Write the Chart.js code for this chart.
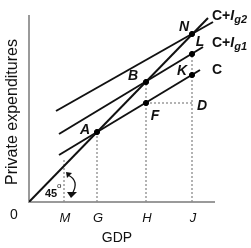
<!DOCTYPE html>
<html>
<head>
<meta charset="utf-8">
<script src="https://cdn.jsdelivr.net/npm/chart.js@4.4.1/dist/chart.umd.min.js"></script>
<style>
    html, body { margin: 0; padding: 0; background: #fff; }
    canvas { display: block; }
</style>
</head>
<body>
<canvas id="grafica" width="251" height="248"></canvas>
<script>
/* ==================
    DATOS
================== */

// marcas del eje x
const nombresEjeX = ["M", "G", "H", "J"];
const posicionesEjeX = [35, 68, 117, 163];

// linea de 45 grados
const linea45X = [0, 179];
const linea45Y = [0, 184];

// C, C+Ig1, C+Ig2
const lineaCX = [30, 171];
const lineaCY = [47, 132];
const lineaIg1X = [30, 174];
const lineaIg1Y = [68, 155];
const lineaIg2X = [27, 184];
const lineaIg2Y = [91, 180];

// puntos marcados
const nombresPuntos = ["A", "B", "N", "L", "K", "F"];
const puntosX = [68, 117, 163, 163, 163, 117];
const puntosY = [70, 120, 168, 148, 127, 99];

// punto D (sin marca)
const puntoD = { x: 163, y: 99 };
// altura de la guia punteada en M
const alturaGuiaM = 44;

/* ==================
    UTILIDADES
================== */

function aPuntos(xs, ys) {
    return xs.map((x, i) => ({ x: x, y: ys[i] }));
}

function lineaSolida(xs, ys) {
    return {
        data: aPuntos(xs, ys),
        showLine: true,
        borderColor: "#111",
        borderWidth: 2,
        pointRadius: 0,
    };
}

function lineaPunteada(puntos) {
    return {
        data: puntos,
        showLine: true,
        borderColor: "#8a8a8a",
        borderWidth: 1.3,
        borderDash: [2, 2],
        pointRadius: 0,
    };
}

function buscarPunto(nombre) {
    const i = nombresPuntos.indexOf(nombre);
    return { x: puntosX[i], y: puntosY[i] };
}

const A = buscarPunto("A");
const B = buscarPunto("B");
const L = buscarPunto("L");
const F = buscarPunto("F");

/* ==================
    PLUGIN DE DIBUJO
================== */

const FUENTE = "Arial, 'Liberation Sans', sans-serif";

const dibujoExtra = {
    id: "dibujoExtra",
    beforeDatasetsDraw(chart) {
        const ctx = chart.ctx;
        const x = chart.scales.x;
        const y = chart.scales.y;
        ctx.save();
        ctx.strokeStyle = "#9a9a9a";
        ctx.lineWidth = 2;
        ctx.beginPath();
        ctx.moveTo(x.getPixelForValue(0), y.getPixelForValue(y.max));
        ctx.lineTo(x.getPixelForValue(0), y.getPixelForValue(0));
        ctx.lineTo(x.getPixelForValue(x.max), y.getPixelForValue(0));
        ctx.stroke();
        ctx.restore();
    },
    afterDraw(chart) {
        const ctx = chart.ctx;
        const x = chart.scales.x;
        const y = chart.scales.y;
        const px = (v) => x.getPixelForValue(v);
        const py = (v) => y.getPixelForValue(v);

        ctx.save();
        ctx.fillStyle = "#111";
        ctx.textAlign = "center";
        ctx.textBaseline = "middle";

        // marcas del eje x
        ctx.font = "italic 13px " + FUENTE;
        nombresEjeX.forEach((n, i) => {
            ctx.fillText(n, px(posicionesEjeX[i]) + 1, py(0) + 16);
        });

        ctx.font = "14px " + FUENTE;
        ctx.fillText("0", px(0) - 15, py(0) + 13);
        ctx.fillText("GDP", px(88), py(0) + 36);

        // titulo eje y
        ctx.save();
        ctx.font = "16px " + FUENTE;
        ctx.translate(13, py(90));
        ctx.rotate(-Math.PI / 2);
        ctx.fillText("Private expenditures", 0, 0);
        ctx.restore();

        // nombres de puntos
        ctx.font = "italic bold 14px " + FUENTE;
        const desplazamientos = {
            A: [-12, -2], B: [-13, -6], N: [-8, -7], L: [8, -12], K: [-10, -4], F: [9, 13],
        };
        nombresPuntos.forEach((n, i) => {
            const d = desplazamientos[n];
            ctx.fillText(n, px(puntosX[i]) + d[0], py(puntosY[i]) + d[1]);
        });
        ctx.fillText("D", px(puntoD.x) + 10, py(puntoD.y) + 3);

        // nombres de lineas
        ctx.textAlign = "left";
        const etiquetaLinea = (xx, yy, sub) => {
            ctx.font = "bold 14px " + FUENTE;
            ctx.fillText("C", xx, yy);
            if (sub) {
                let w = ctx.measureText("C").width;
                ctx.fillText("+", xx + w, yy);
                w += ctx.measureText("+").width;
                ctx.font = "italic bold 14px " + FUENTE;
                ctx.fillText("I", xx + w, yy);
                w += ctx.measureText("I").width;
                ctx.font = "italic bold 11px " + FUENTE;
                ctx.fillText(sub, xx + w, yy + 4);
            }
        };
        etiquetaLinea(212, 16, "g2");
        etiquetaLinea(212, 43, "g1");
        etiquetaLinea(212, 70, null);

        // 45 grados
        ctx.font = "bold 11px " + FUENTE;
        ctx.fillText("45", 45, 194);
        ctx.font = "8px " + FUENTE;
        ctx.fillText("o", 57, 186);

        // flecha curva
        ctx.strokeStyle = "#111";
        ctx.lineWidth = 1.3;
        ctx.beginPath();
        ctx.moveTo(68, 175);
        ctx.quadraticCurveTo(80, 181, 72, 194);
        ctx.stroke();
        ctx.beginPath();
        ctx.moveTo(66, 172);
        ctx.lineTo(72, 173);
        ctx.lineTo(67, 178);
        ctx.closePath();
        ctx.fill();
        ctx.beginPath();
        ctx.moveTo(67, 192);
        ctx.lineTo(77, 192);
        ctx.lineTo(71, 198);
        ctx.closePath();
        ctx.fill();

        ctx.restore();
    },
};

/* ==================
    GRAFICA
================== */

function renderizarGrafica() {
    const canvas = document.getElementById("grafica");
    const context = canvas.getContext("2d");

    // Chart.js pinta el primer dataset encima: puntos primero, punteadas al final
    new Chart(context, {
        type: "scatter",
        data: {
            datasets: [
                {
                    data: aPuntos(puntosX, puntosY),
                    pointRadius: 2.6,
                    pointBackgroundColor: "#000",
                    pointBorderColor: "#000",
                    pointBorderWidth: 1,
                },
                lineaSolida(linea45X, linea45Y),
                lineaSolida(lineaCX, lineaCY),
                lineaSolida(lineaIg1X, lineaIg1Y),
                lineaSolida(lineaIg2X, lineaIg2Y),
                lineaPunteada([{ x: posicionesEjeX[0], y: 0 }, { x: posicionesEjeX[0], y: alturaGuiaM }]),
                lineaPunteada([{ x: A.x, y: 0 }, A]),
                lineaPunteada([{ x: B.x, y: 0 }, B]),
                lineaPunteada([{ x: L.x, y: 0 }, L]),
                lineaPunteada([F, puntoD]),
            ],
        },
        options: {
            responsive: false,
            animation: false,
            devicePixelRatio: 1,
            layout: {
                padding: { left: 29, top: 15, right: 36, bottom: 46 },
            },
            plugins: {
                legend: { display: false },
                tooltip: { enabled: false },
            },
            scales: {
                x: { type: "linear", min: 0, max: 186, display: false },
                y: { type: "linear", min: 0, max: 187, display: false },
            },
        },
        plugins: [dibujoExtra],
    });
}

renderizarGrafica();
</script>
</body>
</html>
